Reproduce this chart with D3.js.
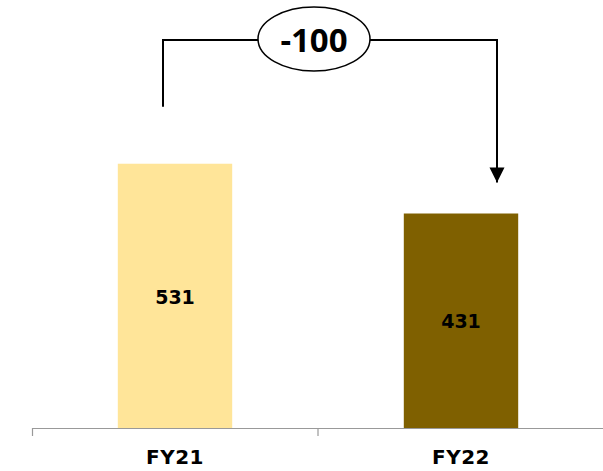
<!DOCTYPE html>
<html>
<head>
<meta charset="utf-8">
<script src="https://cdn.jsdelivr.net/npm/d3@7"></script>
<style>
  body { margin: 0; background: #fff; }
  svg { display: block; }
</style>
</head>
<body>
<div id="chart"></div>
<script>
// values
var categories = ["FY21", "FY22"];
var values = [531, 431];
var barColors = ["#FFE599", "#7F6000"];
var changeLabel = "-100";

var svgWidth = 603;
var svgHeight = 471;
var baseY = 428;

var svg = d3.select("#chart").append("svg")
    .attr("width", svgWidth)
    .attr("height", svgHeight);

var x = d3.scaleBand()
    .domain(categories)
    .range([32, 604])
    .paddingInner(0.6)
    .paddingOuter(0.3);

var y = d3.scaleLinear()
    .domain([0, 860])
    .range([baseY, 0]);

// bars
svg.selectAll("rect.bar")
    .data(values)
    .enter()
    .append("rect")
    .attr("class", "bar")
    .attr("x", function(d, i) { return x(categories[i]); })
    .attr("y", function(d) { return y(d); })
    .attr("width", x.bandwidth())
    .attr("height", function(d) { return y(0) - y(d); })
    .attr("fill", function(d, i) { return barColors[i]; });

// value labels in the middle of each bar
svg.selectAll("text.val")
    .data(values)
    .enter()
    .append("text")
    .attr("class", "val")
    .attr("x", function(d, i) { return x(categories[i]) + x.bandwidth() / 2; })
    .attr("y", function(d) { return (y(d) + y(0)) / 2 + 1; })
    .attr("dy", "0.35em")
    .attr("text-anchor", "middle")
    .style("font-family", "'DejaVu Sans', sans-serif")
    .style("font-weight", "bold")
    .style("font-size", "19px")
    .style("fill", "#000")
    .text(function(d) { return d; });

// x axis
var axis = svg.append("g")
    .attr("transform", "translate(0," + baseY + ")")
    .call(d3.axisBottom(x).tickSize(0).tickSizeOuter(8).tickPadding(22));

axis.select(".domain").attr("stroke", "#999").attr("stroke-width", 1.2);
axis.selectAll("text")
    .style("font-family", "'DejaVu Sans', sans-serif")
    .style("font-weight", "bold")
    .style("font-size", "20px")
    .style("letter-spacing", "0.5px")
    .style("fill", "#000");

// separator tick between the categories
axis.append("line")
    .attr("x1", x.range()[0] + x.step())
    .attr("x2", x.range()[0] + x.step())
    .attr("y1", 0)
    .attr("y2", 8)
    .attr("stroke", "#999")
    .attr("stroke-width", 1.2);

// change annotation: bracket from FY21 to FY22 with arrow
var leftX = x(categories[0]) + x.bandwidth() / 2 - 12;
var rightX = x(categories[1]) + x.bandwidth() / 2 + 36;
var topY = 40;

svg.append("path")
    .attr("d", "M" + leftX + "," + (y(values[0]) - 57) +
               " L" + leftX + "," + topY +
               " L" + rightX + "," + topY +
               " L" + rightX + "," + (y(values[1]) - 31))
    .attr("fill", "none")
    .attr("stroke", "#000")
    .attr("stroke-width", 2);

// arrow head drawn as a triangle at the end of the right leg
var tipY = y(values[1]) - 31;
svg.append("path")
    .attr("d", "M" + (rightX - 7.5) + "," + (tipY - 15) +
               " L" + (rightX + 7.5) + "," + (tipY - 15) +
               " L" + rightX + "," + tipY + " Z")
    .attr("fill", "#000");

var midX = (leftX + rightX) / 2 - 16;
svg.append("ellipse")
    .attr("cx", midX)
    .attr("cy", 39)
    .attr("rx", 56)
    .attr("ry", 32)
    .attr("fill", "#fff")
    .attr("stroke", "#000")
    .attr("stroke-width", 1.5);

svg.append("text")
    .attr("x", midX)
    .attr("y", 40)
    .attr("dy", "0.35em")
    .attr("text-anchor", "middle")
    .style("font-family", "'Open Sans', sans-serif")
    .style("font-weight", "bold")
    .style("font-size", "33px")
    .style("fill", "#000")
    .text(changeLabel);
</script>
</body>
</html>
